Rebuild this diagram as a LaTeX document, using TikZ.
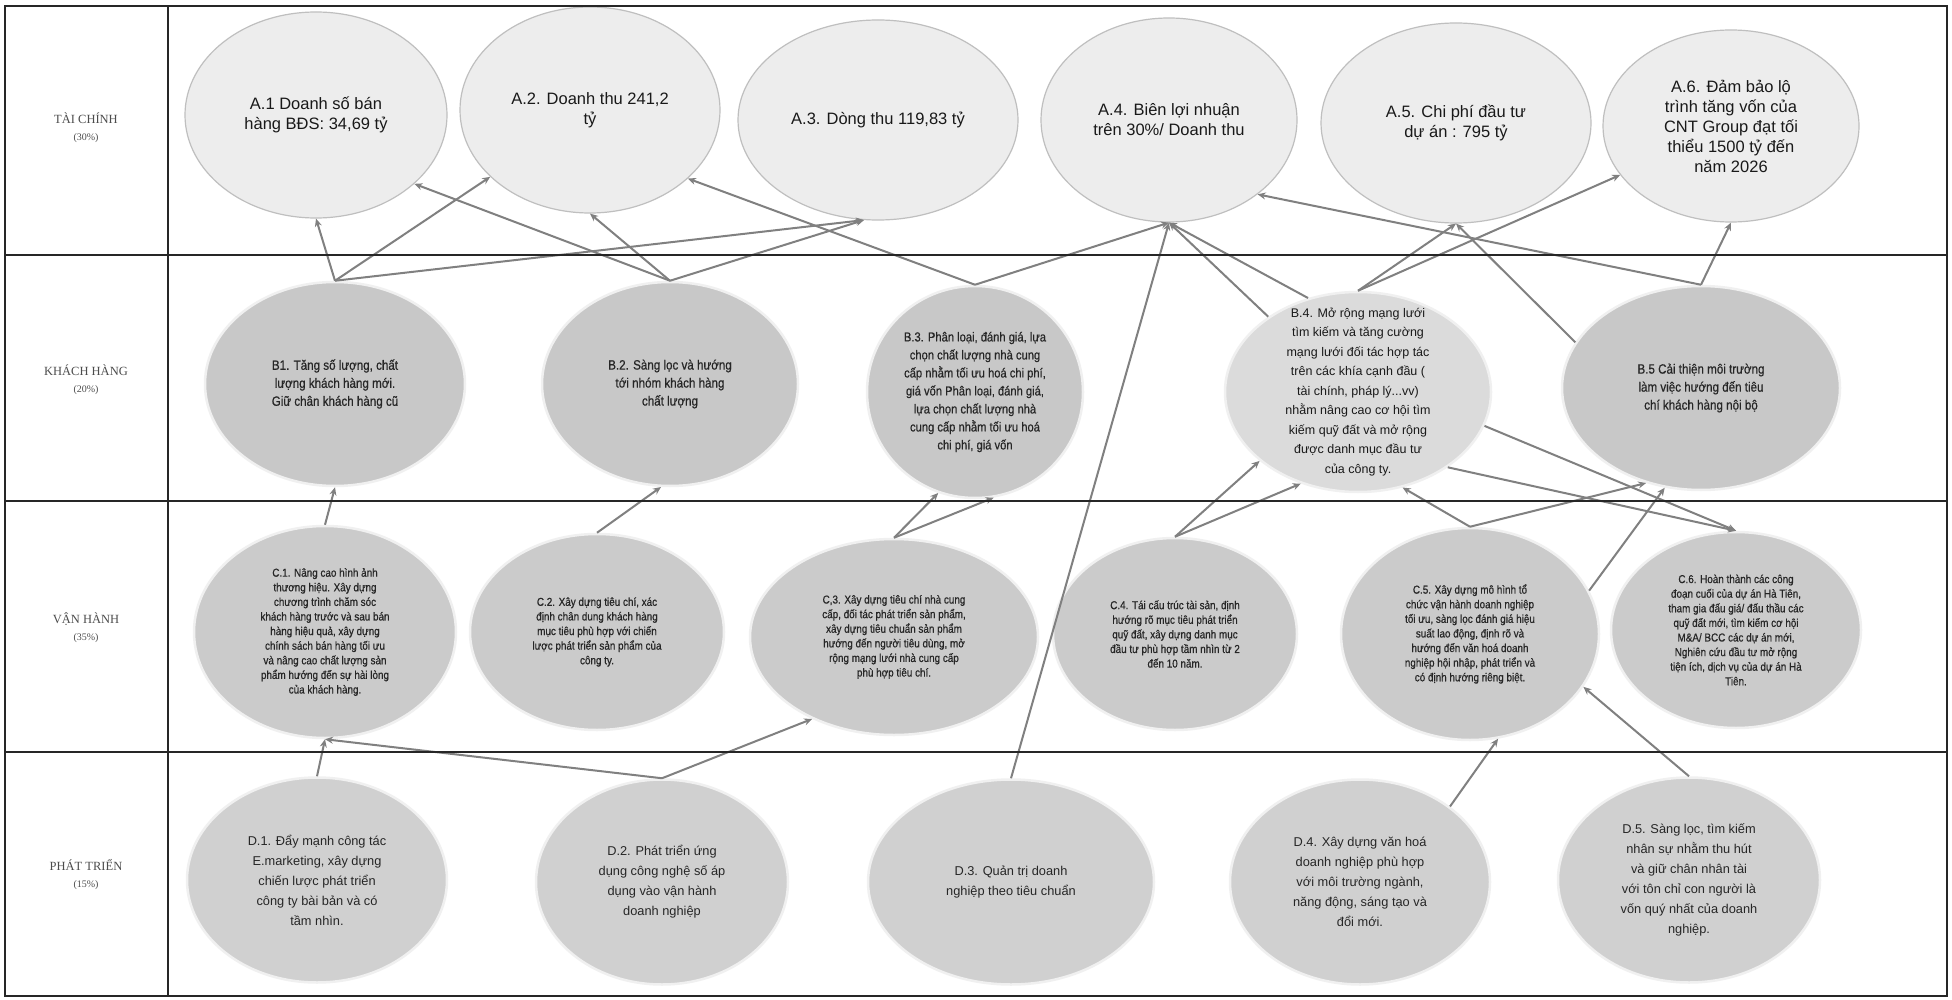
\documentclass[tikz,border=0pt]{standalone}
\usepackage{fontspec}
\setmainfont{Liberation Sans}
\newfontfamily\labfont{Liberation Serif}
\newfontfamily\bfont{Liberation Sans}[FakeStretch=0.86,FakeBold=0.6]
\usetikzlibrary{shapes.geometric,arrows.meta}
\begin{document}
\begin{tikzpicture}[x=1pt,y=-1pt,
  frame/.style={line width=2pt,draw=black!85},
  ella/.style={ellipse,draw=gray!50,line width=1.2pt,fill=gray!14,inner sep=0pt},
  ellb/.style={ellipse,draw=gray!12,line width=2.5pt,fill=gray!43,inner sep=0pt},
  ellc/.style={ellipse,draw=gray!12,line width=2.5pt,fill=gray!41,inner sep=0pt},
  elld/.style={ellipse,draw=gray!12,line width=2.5pt,fill=gray!37,inner sep=0pt},
  ta/.style={align=center,font=\fontsize{16.5}{20}\selectfont,text=black!90},
  tb/.style={align=center,font=\bfont\fontsize{13.5}{18}\selectfont,text=black!85},
  tc/.style={align=center,font=\bfont\fontsize{11.5}{14.6}\selectfont,text=black!85},
  td/.style={align=center,font=\fontsize{12.8}{20}\selectfont,text=black!85},
  lab/.style={align=center,font=\labfont\fontsize{12.5}{17}\selectfont,text=black!70},
  conn/.style={draw=black!50,line width=2pt,-{Stealth[length=8pt,width=7pt]}}
]
\useasboundingbox (0,0) rectangle (1952,1000);
\fill[white] (0,0) rectangle (1952,1000);

% ---------- ellipses ----------
\node[ella,minimum width=262,minimum height=206] (A1) at (316,115) {};
\node[ella,minimum width=260,minimum height=206] (A2) at (590,110) {};
\node[ella,minimum width=280,minimum height=200] (A3) at (878,120) {};
\node[ella,minimum width=256,minimum height=204] (A4) at (1169,120) {};
\node[ella,minimum width=270,minimum height=200] (A5) at (1456,123) {};
\node[ella,minimum width=256,minimum height=192] (A6) at (1731,126) {};

\node[ellb,minimum width=260,minimum height=204] (B1) at (335,384) {};
\node[ellb,minimum width=256,minimum height=204] (B2) at (670,384) {};
\node[ellb,minimum width=216,minimum height=212] (B3) at (975,392) {};
\node[ellb,fill=gray!28,minimum width=266,minimum height=200] (B4) at (1358,392) {};
\node[ellb,minimum width=278,minimum height=204] (B5) at (1701,388) {};

\node[ellc,minimum width=262,minimum height=212] (C1) at (325,632) {};
\node[ellc,minimum width=254,minimum height=196] (C2) at (597,632) {};
\node[ellc,minimum width=288,minimum height=196] (C3) at (894,637) {};
\node[ellc,minimum width=244,minimum height=192] (C4) at (1175,634) {};
\node[ellc,minimum width=258,minimum height=212] (C5) at (1470,634) {};
\node[ellc,minimum width=250,minimum height=196] (C6) at (1736,630) {};

\node[elld,minimum width=260,minimum height=205] (D1) at (317,880) {};
\node[elld,minimum width=252,minimum height=205] (D2) at (662,882) {};
\node[elld,minimum width=286,minimum height=205] (D3) at (1011,882) {};
\node[elld,minimum width=260,minimum height=205] (D4) at (1360,882) {};
\node[elld,minimum width=262,minimum height=205] (D5) at (1689,880) {};

% ---------- texts ----------
\node[ta] (tA1) at (A1) {A.1 Doanh số bán\\hàng BĐS: 34,69 tỷ};
\node[ta] (tA2) at (A2) {A.2. Doanh thu 241,2\\tỷ};
\node[ta] (tA3) at (A3) {A.3. Dòng thu 119,83 tỷ};
\node[ta] (tA4) at (A4) {A.4. Biên lợi nhuận\\trên 30\%/ Doanh thu};
\node[ta] (tA5) at (A5) {A.5. Chi phí đầu tư\\dự án : 795 tỷ};
\node[ta] (tA6) at (A6) {A.6. Đảm bảo lộ\\trình tăng vốn của\\CNT Group đạt tối\\thiểu 1500 tỷ đến\\năm 2026};

\node[tb] (tB1) at (B1) {B1. Tăng số lượng, chất\\lượng khách hàng mới.\\Giữ chân khách hàng cũ};
\node[tb] (tB2) at (B2) {B.2. Sàng lọc và hướng\\tới nhóm khách hàng\\chất lượng};
\node[tb,font=\bfont\fontsize{13}{18}\selectfont] (tB3) at (B3) {B.3. Phân loại, đánh giá, lựa\\chọn chất lượng nhà cung\\cấp nhằm tối ưu hoá chi phí,\\giá vốn Phân loại, đánh giá,\\lựa chọn chất lượng nhà\\cung cấp nhằm tối ưu hoá\\chi phí, giá vốn};
\node[ta,font=\fontsize{12.5}{19.5}\selectfont] (tB4) at (B4) {B.4. Mở rộng mạng lưới\\tìm kiếm và tăng cường\\mạng lưới đối tác hợp tác\\trên các khía cạnh đầu (\\tài chính, pháp lý...vv)\\nhằm nâng cao cơ hội tìm\\kiếm quỹ đất và mở rộng\\được danh mục đầu tư\\của công ty.};
\node[tb] (tB5) at (B5) {B.5 Cải thiện môi trường\\làm việc hướng đến tiêu\\chí khách hàng nội bộ};

\node[tc] (tC1) at (C1) {C.1. Nâng cao hình ảnh\\thương hiệu. Xây dựng\\chương trình chăm sóc\\khách hàng trước và sau bán\\hàng hiệu quả, xây dựng\\chính sách bán hàng tối ưu\\và nâng cao chất lượng sản\\phẩm hướng đến sự hài lòng\\của khách hàng.};
\node[tc] (tC2) at (C2) {C.2. Xây dựng tiêu chí, xác\\định chân dung khách hàng\\mục tiêu phù hợp với chiến\\lược phát triển sản phẩm của\\công ty.};
\node[tc] (tC3) at (C3) {C,3. Xây dựng tiêu chí nhà cung\\cấp, đối tác phát triển sản phẩm,\\xây dựng tiêu chuẩn sản phẩm\\hướng đến người tiêu dùng, mở\\rộng mạng lưới nhà cung cấp\\phù hợp tiêu chí.};
\node[tc] (tC4) at (C4) {C.4. Tái cấu trúc tài sản, định\\hướng rõ mục tiêu phát triển\\quỹ đất, xây dựng danh mục\\đầu tư phù hợp tầm nhìn từ 2\\đến 10 năm.};
\node[tc] (tC5) at (C5) {C.5. Xây dựng mô hình tổ\\chức vận hành doanh nghiệp\\tối ưu, sàng lọc đánh giá hiệu\\suất lao động, định rõ và\\hướng đến văn hoá doanh\\nghiệp hội nhập, phát triển và\\có định hướng riêng biệt.};
\node[tc] (tC6) at (C6) {C.6. Hoàn thành các công\\đoạn cuối của dự án Hà Tiên,\\tham gia đấu giá/ đấu thầu các\\quỹ đất mới, tìm kiếm cơ hội\\M\&A/ BCC các dự án mới,\\Nghiên cứu đầu tư mở rộng\\tiện ích, dịch vụ của dự án Hà\\Tiên.};

\node[td] (tD1) at (D1) {D.1. Đẩy mạnh công tác\\E.marketing, xây dựng\\chiến lược phát triển\\công ty bài bản và có\\tầm nhìn.};
\node[td] (tD2) at (D2) {D.2. Phát triển ứng\\dụng công nghệ số áp\\dụng vào vận hành\\doanh nghiệp};
\node[td] (tD3) at (D3) {D.3. Quản trị doanh\\nghiệp theo tiêu chuẩn};
\node[td] (tD4) at (D4) {D.4. Xây dựng văn hoá\\doanh nghiệp phù hợp\\với môi trường ngành,\\năng động, sáng tạo và\\đổi mới.};
\node[td] (tD5) at (D5) {D.5. Sàng lọc, tìm kiếm\\nhân sự nhằm thu hút\\và giữ chân nhân tài\\với tôn chỉ con người là\\vốn quý nhất của doanh\\nghiệp.};

% ---------- connectors ----------
\draw[conn] (B1.north) -- (A1.south);
\draw[conn] (B1.north) -- (A2);
\draw[conn] (B1.north) -- (A3.262);
\draw[conn] (B2.north) -- (A1.-35);
\draw[conn] (B2.north) -- (A2.south);
\draw[conn] (B2.north) -- (A3.262);
\draw[conn] (B3.north) -- (A2.-35);
\draw[conn] (B3.north) -- (A4.south);
\draw[conn] (D3.north) -- (A4.south);
\draw[conn] (B4.140) -- (A4.south);
\draw[conn] (B4.118) -- (A4.south);
\draw[conn] (B4.north) -- (A5.south);
\draw[conn] (B4.north) -- (A6);
\draw[conn] (B5.north) -- (A4.-40);
\draw[conn] (B5.160) -- (A5.south);
\draw[conn] (B5.north) -- (A6.south);

\draw[conn] (C1.north) -- (B1.south);
\draw[conn] (C2.north) -- (B2.265);
\draw[conn] (C3.north) -- (B3.250);
\draw[conn] (C3.north) -- (B3.280);
\draw[conn] (C4.north) -- (B4.215);
\draw[conn] (C4.north) -- (B4.238);
\draw[conn] (C5.north) -- (B4.295);
\draw[conn] (C5.north) -- (B5.240);
\draw[conn] (B4.-15) -- (C6.north);
\draw[conn] (B4.-40) -- (C6.north);
\draw[conn] (C5.20) -- (B5.250);

\draw[conn] (D1.north) -- (C1.south);
\draw[conn] (D2.north) -- (C1.south);
\draw[conn] (D2.north) -- (C3.225);
\draw[conn] (D4.40) -- (C5.285);
\draw[conn] (D5.north) -- (C5.-25);

% ---------- table ----------
\draw[frame] (5,6) rectangle (1947,996);
\draw[frame] (168,6) -- (168,996);
\draw[frame] (5,255) -- (1947,255);
\draw[frame] (5,501) -- (1947,501);
\draw[frame] (5,752) -- (1947,752);

\node[lab] (L1) at (86,128) {TÀI CHÍNH\\{\fontsize{10}{12}\selectfont(30\%)}};
\node[lab] (L2) at (86,380) {KHÁCH HÀNG\\{\fontsize{10}{12}\selectfont(20\%)}};
\node[lab] (L3) at (86,628) {VẬN HÀNH\\{\fontsize{10}{12}\selectfont(35\%)}};
\node[lab] (L4) at (86,875) {PHÁT TRIỂN\\{\fontsize{10}{12}\selectfont(15\%)}};
\end{tikzpicture}
\end{document}
